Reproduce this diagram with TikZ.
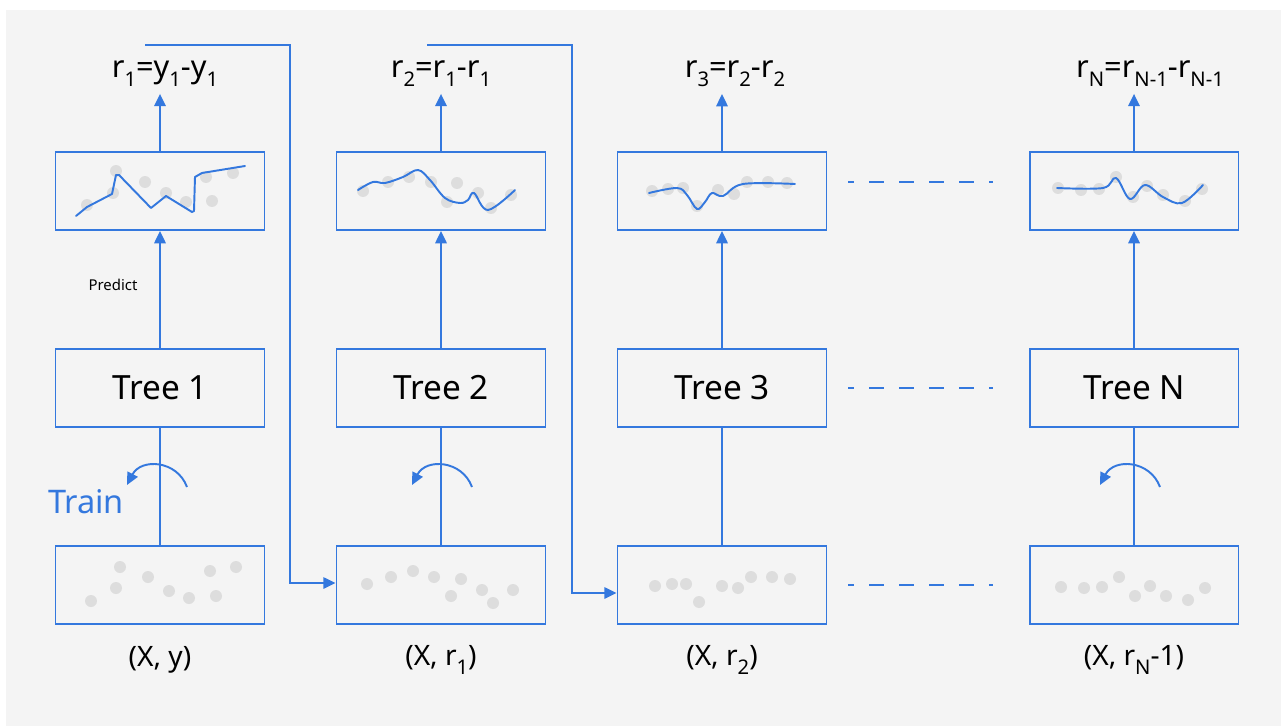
\documentclass[tikz,border=0pt]{standalone}
\usepackage{fontspec}
\setmainfont{Noto Sans}
\usepackage{xcolor}
\usetikzlibrary{arrows.meta}
\definecolor{gbblue}{RGB}{52,120,222}
\definecolor{dotgrey}{RGB}{221,221,221}
\definecolor{panelgrey}{RGB}{244,244,244}
% low, fairly large subscript as in the drawing
\newcommand\lowsub[1]{\raisebox{-5pt}{\fontsize{11.5}{12}\selectfont #1}}
\tikzset{
    box/.style={draw=gbblue,line width=1.1pt,minimum width=4.18cm,minimum height=1.56cm,inner sep=0pt},
    flow/.style={draw=gbblue,line width=1.1pt},
    tip/.style={-{Triangle[length=7pt,width=6.5pt]}},
    fit line/.style={draw=gbblue,line width=1.1pt,line join=round,line cap=round},
    gap line/.style={draw=gbblue,line width=1.1pt,dash pattern=on 0.3cm off 0.3cm,dash phase=0.18cm,shorten <=0.42cm,shorten >=0.72cm},
    tree text/.style={font=\fontsize{19}{22}\selectfont},
    res text/.style={font=\fontsize{17.5}{20}\selectfont,inner sep=1pt},
    set text/.style={font=\fontsize{16}{19}\selectfont},
    dot/.style={fill=dotgrey}
}

\begin{document}
\begin{tikzpicture}[x=0.02cm,y=-0.02cm]
    \useasboundingbox (0,0) rectangle (1281,726);
    \fill[panelgrey] (6,10) rectangle (1281,726);

    % predictions
    \node(pred1)[box] at (160,191) {};
    \node(pred2)[box] at (441,191) {};
    \node(pred3)[box] at (722,191) {};
    \node(pred4)[box] at (1134,191) {};
    % trees
    \node(tree1)[box,tree text] at (160,388) {Tree 1};
    \node(tree2)[box,tree text] at (441,388) {Tree 2};
    \node(tree3)[box,tree text] at (722,388) {Tree 3};
    \node(tree4)[box,tree text] at (1134,388) {Tree N};
    % training sets
    \node(data1)[box] at (160,585) {};
    \node(data2)[box] at (441,585) {};
    \node(data3)[box] at (722,585) {};
    \node(data4)[box] at (1134,585) {};

    % residuals
    \node(res1)[res text] at (165,74) {r\lowsub{1}=y\lowsub{1}-y\lowsub{1}};
    \node(res2)[res text] at (441,74) {r\lowsub{2}=r\lowsub{1}-r\lowsub{1}};
    \node(res3)[res text] at (735,74) {r\lowsub{3}=r\lowsub{2}-r\lowsub{2}};
    \node(res4)[res text] at (1150,74) {r\lowsub{N}=r\lowsub{N-1}-r\lowsub{N-1}};

    % inputs
    \node(in1)[set text] at (160,660) {(X, y)};
    \node(in2)[set text] at (441,660) {(X, r\lowsub{1})};
    \node(in3)[set text] at (722,660) {(X, r\lowsub{2})};
    \node(in4)[set text] at (1134,660) {(X, r\lowsub{N}-1)};

    \node(predict)[font=\fontsize{8.5}{10}\selectfont] at (113,285) {Predict};
    \node(train)[text=gbblue,font=\fontsize{18.5}{22}\selectfont] at (86,502) {Train};

    % vertical flow
    \draw[flow] (data1) -- (tree1);
    \draw[flow] (data2) -- (tree2);
    \draw[flow] (data3) -- (tree3);
    \draw[flow] (data4) -- (tree4);
    \draw[flow,tip] (tree1) -- (pred1);
    \draw[flow,tip] (tree2) -- (pred2);
    \draw[flow,tip] (tree3) -- (pred3);
    \draw[flow,tip] (tree4) -- (pred4);
    \draw[flow,tip,shorten >=0.1cm] (pred1.north) -- (pred1.north |- res1.south);
    \draw[flow,tip,shorten >=0.1cm] (pred2.north) -- (pred2.north |- res2.south);
    \draw[flow,tip,shorten >=0.1cm] (pred3.north) -- (pred3.north |- res3.south);
    \draw[flow,tip,shorten >=0.1cm] (pred4.north) -- (pred4.north |- res4.south);

    % residuals fed to the next tree
    \coordinate(fb1) at (145,45);
    \coordinate(bend1) at (290,45);
    \coordinate(fb2) at (427,45);
    \coordinate(bend2) at (572,45);
    \draw[flow,tip] (fb1) -- (bend1) |- ([yshift=0.04cm]data2.west);
    \draw[flow,tip] (fb2) -- (bend2) |- ([yshift=-0.16cm]data3.west);

    % train arrows
    \draw[flow,tip] (187,487) .. controls (177,460) and (141,458) .. (127,485);
    \draw[flow,tip] (472,487) .. controls (462,460) and (426,458) .. (412,485);
    \draw[flow,tip] (1160,487) .. controls (1150,460) and (1114,458) .. (1100,485);

    % skipped trees
    \draw[gap line] ([yshift=0.18cm]pred3.east) -- ([yshift=0.18cm]pred4.west);
    \draw[gap line] (tree3) -- (tree4);
    \draw[gap line] (data3) -- (data4);

    % points in the training sets
    \foreach \x/\y in {91/601,116/588,120/567,148/577,169/591,189/598,210/571,216/596,236/567,
                       367/584,391/577,413/571,434/577,461/579,451/596,482/590,493/603,513/590,
                       655/586,672/584,686/584,699/602,722/586,738/588,751/577,772/577,790/579,
                       1061/587,1084/588,1102/587,1119/577,1135/596,1150/586,1166/596,1188/600,1205/588}
        \fill[dot] (\x,\y) circle (0.12cm);

    % points in the predictions
    \foreach \x/\y in {87/205,113/193,116/171,145/182,166/193,186/202,212/201,206/177,233/173,
                       363/191,388/182,409/177,431/182,457/183,447/202,478/193,491/208,511/195,
                       652/191,668/189,683/188,697/206,718/190,734/194,747/182,768/182,787/183,
                       1058/188,1081/190,1099/189,1116/177,1133/197,1147/186,1163/195,1185/201,1202/189}
        \fill[dot] (\x,\y) circle (0.12cm);

    % fitted curves
    \draw[fit line] (76,216) -- (87,207) -- (112,194) -- (116,175) -- (119,175) -- (151,208)
        -- (166,196) -- (192,212) -- (194,211) -- (195,177) -- (202,173) -- (245,166);
    \draw[fit line] plot[smooth,tension=0.6] coordinates {(358,190) (373,182) (385,183) (403,177) (418,170)
        (430,180) (445,198) (460,203) (468,200) (474,193) (488,210) (515,190)};
    \draw[fit line] plot[smooth,tension=0.6] coordinates {(649,193) (677,188) (687,195) (697,209) (705,202)
        (712,193) (723,196) (743,184) (795,184)};
    \draw[fit line] plot[smooth,tension=0.6] coordinates {(1057,188) (1103,188) (1116,178) (1130,199)
        (1145,185) (1163,197) (1182,203) (1203,185)};
\end{tikzpicture}
\end{document}
